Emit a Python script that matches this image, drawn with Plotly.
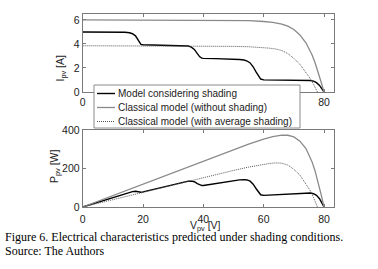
import plotly.graph_objects as go

# ---------------- data ----------------
# Model considering shading (black)
v_shade = [0, 5, 10, 14, 15.5, 16.5, 17.5, 18.2, 18.8, 19.3, 20, 24, 28, 31, 33, 35, 36, 37, 38, 38.8, 39.5, 40,
           44, 48, 50, 52, 53.5, 54.5, 55.5, 56.5, 57.5, 58.3, 59, 60, 65, 70, 74, 75.5, 76.5, 77.5, 78.5, 79.3, 80]
i_shade = [5.0, 5.0, 4.99, 4.98, 4.93, 4.85, 4.68, 4.4, 4.1, 3.96, 3.93, 3.92, 3.91, 3.9, 3.88, 3.83, 3.74, 3.55, 3.2, 2.93, 2.82, 2.8,
           2.78, 2.76, 2.74, 2.71, 2.66, 2.58, 2.42, 2.1, 1.65, 1.28, 1.08, 1.01, 1.0, 0.995, 0.985, 0.96, 0.9, 0.78, 0.55, 0.28, 0.0]
p_shade = [0, 25, 49.9, 69.7, 76.4, 80.0, 81.9, 80.1, 77.1, 76.4, 78.6, 94.1, 109.5, 120.9, 128.0, 134.1, 134.6, 131.4, 121.6, 113.7, 111.4, 112.0,
           122.3, 132.5, 137.0, 140.9, 142.3, 140.6, 134.3, 118.7, 94.9, 74.6, 63.7, 60.6, 65.0, 69.7, 72.9, 72.5, 68.9, 60.4, 43.2, 22.2, 0.0]

# Classical model (without shading) (gray)
v_clear = [0, 10, 20, 30, 40, 50, 55, 60, 63, 66, 68, 70, 72, 74, 76, 77, 78, 79, 80]
i_clear = [6.0, 6.0, 6.0, 6.0, 5.99, 5.97, 5.94, 5.87, 5.8, 5.65, 5.48, 5.2, 4.75, 4.1, 3.1, 2.45, 1.7, 0.85, 0.0]
p_clear = [0, 60, 120, 180, 239.6, 298.5, 326.7, 352.2, 365.4, 372.9, 372.6, 364, 342, 303.4, 235.6, 188.7, 132.6, 67.2, 0.0]

# Classical model (with average shading) (dotted)
v_avg = [0, 10, 20, 30, 40, 45, 50, 55, 58, 60, 62, 64, 66, 68, 70, 72, 74, 75.5, 76.5, 77.5, 77.8]
i_avg = [3.85, 3.85, 3.85, 3.84, 3.83, 3.82, 3.8, 3.77, 3.73, 3.7, 3.65, 3.58, 3.45, 3.2, 2.8, 2.3, 1.65, 1.1, 0.65, 0.15, 0.0]
p_avg = [0, 38.5, 77, 115.2, 153.2, 171.9, 190, 207.4, 216.3, 222, 226.3, 229.1, 227.7, 217.6, 196, 165.6, 122.1, 83.1, 49.7, 11.6, 0.0]

names = ["Model considering shading", "Classical model (without shading)", "Classical model (with average shading)"]
x_ticks = [0, 20, 40, 60, 80]
x_ticklabels = ["0", "20", "40", "60", "80"]
x_ticklabels_top = ["0", "", "", "", "80"]   # middle labels are hidden under the legend in the original
i_ticks = [0, 2, 4, 6]
p_ticks = [0, 200, 400]

caption1 = "Figure 6. Electrical characteristics predicted under shading conditions."
caption2 = "Source: The Authors"

# ---------------- figure ----------------
W, H = 378, 269
def px(x):
    return x / W
def py(y):
    return 1 - y / H

styles = [
    dict(color="#000000", width=1.4),
    dict(color="#8a8a8a", width=1.3),
    dict(color="#555555", width=1, dash="1px,1px"),
]

fig = go.Figure()
for name, v, i, st in zip(names, [v_shade, v_clear, v_avg], [i_shade, i_clear, i_avg], styles):
    fig.add_trace(go.Scatter(x=v, y=i, mode="lines", name=name, line=st, xaxis="x", yaxis="y",
                             showlegend=False))
for name, v, p, st in zip(names, [v_shade, v_clear, v_avg], [p_shade, p_clear, p_avg], styles):
    fig.add_trace(go.Scatter(x=v, y=p, mode="lines", name=name, line=st, xaxis="x2", yaxis="y2",
                             showlegend=False))

tick_font = dict(family="Liberation Sans, Arial", size=10.5, color="#222")
axis_common = dict(showline=True, linecolor="#7a7a7a", linewidth=1, mirror="ticks", ticks="inside",
                   ticklen=3, tickcolor="#7a7a7a", showgrid=False, zeroline=False, automargin=False,
                   tickfont=tick_font)

xd = [px(82.7), px(334)]
fig.update_layout(
    template="none",
    width=W, height=H,
    margin=dict(l=0, r=0, t=0, b=0),
    paper_bgcolor="white", plot_bgcolor="white",
    xaxis=dict(domain=xd, range=[0, 83.3], tickvals=x_ticks, ticktext=x_ticklabels_top, anchor="y",
               **axis_common),
    yaxis=dict(domain=[py(92), py(14.3)], range=[0, 6.47], tickvals=i_ticks, anchor="x", **axis_common),
    xaxis2=dict(domain=xd, range=[0, 83.3], tickvals=x_ticks, ticktext=x_ticklabels, anchor="y2",
                ticklabelstandoff=2, **axis_common),
    yaxis2=dict(domain=[py(207), py(130)], range=[0, 400], tickvals=p_ticks, anchor="x2", **axis_common),
    showlegend=False,
)

# ---- manual legend (compact, like the original) ----
lg_left, lg_right, lg_top, lg_bottom = 94, 300, 85, 128
fig.add_shape(type="rect", xref="paper", yref="paper", x0=px(lg_left), x1=px(lg_right),
              y0=py(lg_bottom), y1=py(lg_top), fillcolor="white", line=dict(color="#8a8a8a", width=1),
              layer="above")
row_y = [93.5, 107.5, 121.5]
leg_font = dict(family="Liberation Sans, Arial", size=10, color="#222")
for name, st, ry in zip(names, styles, row_y):
    fig.add_shape(type="line", xref="paper", yref="paper", x0=px(97), x1=px(115), y0=py(ry), y1=py(ry),
                  line=st, layer="above")
    fig.add_annotation(text=name, x=px(117), y=py(ry), xref="paper", yref="paper", xanchor="left",
                       yanchor="middle", showarrow=False, font=leg_font, borderpad=0)

ann_font = dict(family="Liberation Sans, Arial", size=10.5, color="#222")
fig.add_annotation(text="I<sub>pv</sub> [A]", x=px(69), y=py(53), xref="paper", yref="paper",
                   xanchor="right", showarrow=False, textangle=-90, font=ann_font)
fig.add_annotation(text="P<sub>pv</sub> [W]", x=px(64), y=py(166), xref="paper", yref="paper",
                   xanchor="right", showarrow=False, textangle=-90, font=ann_font)
fig.add_annotation(text="V<sub>pv</sub> [V]", x=px(205), y=py(225.5), xref="paper", yref="paper",
                   yanchor="middle", showarrow=False, font=ann_font, borderpad=0)

cap_font = dict(family="Liberation Serif, Times New Roman", size=12, color="#000")
fig.add_annotation(text=caption1, x=px(4), y=py(245), xref="paper", yref="paper", xanchor="left",
                   showarrow=False, font=cap_font, borderpad=0)
fig.add_annotation(text=caption2, x=px(4), y=py(259), xref="paper", yref="paper", xanchor="left",
                   showarrow=False, font=cap_font, borderpad=0)

fig.write_html("out.html", config={"displayModeBar": False},
               post_script="document.body.style.margin='0';document.body.style.overflow='hidden';")
